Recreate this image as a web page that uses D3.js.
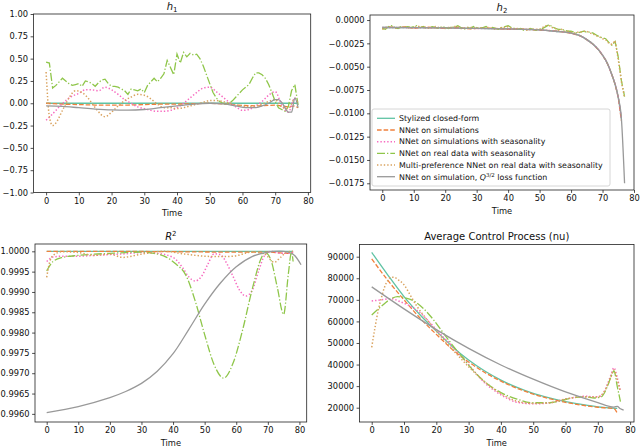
<!DOCTYPE html>
<html><head><meta charset="utf-8">
<script src="https://cdn.jsdelivr.net/npm/d3@7"></script>
<style>body{margin:0;background:#fff} svg{display:block;font-family:"DejaVu Sans",sans-serif}</style>
</head><body><svg id="c" width="640" height="447"></svg>
<script>
// ---------- series meta ----------
const seriesNames = ["Stylized closed-form","NNet on simulations","NNet on simulations with seasonality",
  "NNet on real data with seasonality","Multi-preference NNet on real data with seasonality","NNet on simulation, Q^{3/2} loss function"];
const seriesColors = ["#5fc3a4","#f0803c","#f76cc0","#8fc64a","#d9a25e","#999999"];
const seriesDash = ["", "4.6,2", "1.4,2", "8,2,1.3,2", "1.4,2", ""];
const seriesWidth = [1.3, 1.3, 1.5, 1.3, 1.5, 1.3];

// ---------- h1 ----------
const h1TealT = [0,77], h1TealV = [0,0];
const h1OrangeT = [0,5,10,15,20,25,30,35,40,45,50,55,60,65,70,72,74,76,77];
const h1OrangeV = [0.0,-0.01,-0.015,-0.02,-0.02,-0.02,-0.015,-0.01,-0.01,-0.005,0.0,-0.01,-0.025,-0.03,-0.02,-0.03,-0.04,-0.03,-0.05];
const h1PinkT = [0,2,4,6,8,10,12,14,16,18,20,22,24,26,28,30,32,34,36,38,40,42,44,46,48,50,52,54,56,58,60,62,64,66,68,70,72,74,76,77];
const h1PinkV = [-0.19,-0.12,-0.04,0.03,0.08,0.11,0.15,0.15,0.14,0.18,0.15,0.10,0.04,0.0,-0.04,-0.06,-0.08,-0.09,-0.09,-0.08,-0.05,0.0,0.06,0.12,0.17,0.18,0.13,0.07,0.01,-0.04,-0.08,-0.07,-0.03,0.02,0.09,0.13,-0.02,-0.1,0.06,0.0];
const h1GreenT = d3.range(0,78);
const h1GreenV = [0.46,0.45,0.17,0.20,0.24,0.28,0.25,0.22,0.20,0.21,0.22,0.19,0.25,0.24,0.22,0.19,0.23,0.26,0.27,0.22,
  0.19,0.19,0.18,0.16,0.14,0.10,0.16,0.15,0.14,0.16,0.12,0.20,0.24,0.28,0.24,0.28,0.33,0.48,0.40,0.32,
  0.55,0.45,0.57,0.52,0.56,0.54,0.55,0.50,0.42,0.32,0.22,0.12,0.06,0.02,0.00,-0.01,0.00,0.03,0.07,0.11,
  0.15,0.18,0.21,0.28,0.34,0.34,0.32,0.28,0.21,0.12,0.02,-0.05,-0.07,-0.09,-0.04,0.14,0.21,-0.02];
const h1TanT = [0,1,2,3,5,7,9,11,13,15,18,20,22,24,26,28,30,32,34,36,38,40,42,44,46,48,50,52,54,56,58,60,62,64,66,68,70,72,74,76,77];
const h1TanV = [0.35,-0.15,-0.25,-0.22,-0.08,0.06,0.14,0.12,0.05,-0.05,-0.15,-0.10,-0.03,0.03,0.07,0.10,0.09,0.05,-0.01,-0.05,-0.05,-0.06,-0.05,-0.03,-0.01,0.01,0.03,0.03,0.02,0.0,-0.02,-0.03,-0.04,-0.03,-0.01,0.02,0.04,-0.04,-0.06,0.05,0.0];
const h1GreyT = [0,5,10,15,20,25,30,35,40,45,50,55,58,61,64,66,68,70,71,72,73,74,75,76,77];
const h1GreyV = [-0.03,-0.035,-0.05,-0.065,-0.075,-0.078,-0.07,-0.05,-0.03,-0.01,0.0,-0.01,-0.03,-0.05,-0.05,-0.03,0.0,0.04,0.04,0.01,-0.05,-0.1,-0.1,0.06,-0.05];

// ---------- h2 ----------
const h2SmoothT = [0,10,20,30,40,50,55,60,63,65,67,69,71,72,73,74,75,76];
const h2SmoothV = [-0.0008,-0.00082,-0.00085,-0.0009,-0.00095,-0.00105,-0.0012,-0.0014,-0.0017,-0.0021,-0.0026,-0.0033,-0.0043,-0.005,-0.0059,-0.0069,-0.0083,-0.0106];
const h2OrangeT = [0,2,4,6,8,10,13,16,20,24,28,32,36,40,44,48,52,56,60,63,65,67,69,71,72,73,74,75,76];
const h2OrangeV = [-0.0009,-0.0007,-0.00085,-0.0008,-0.0007,-0.0009,-0.00075,-0.0008,-0.0009,-0.0008,-0.00095,-0.00085,-0.0009,-0.001,-0.00095,-0.00105,-0.0011,-0.0012,-0.0014,-0.0017,-0.0021,-0.0026,-0.0033,-0.0043,-0.005,-0.0059,-0.0069,-0.0083,-0.0108];
const h2GreyT = [0,10,20,30,40,50,55,60,63,65,67,69,71,72,73,74,75,76,77];
const h2GreyV = [-0.0008,-0.00082,-0.00085,-0.0009,-0.00095,-0.00105,-0.0012,-0.0014,-0.0017,-0.0021,-0.0026,-0.0033,-0.0043,-0.005,-0.0059,-0.0069,-0.0083,-0.0106,-0.0175];
const h2GreenT = d3.range(0,78);
const h2GreenV = [-0.0009,-0.0010,-0.0007,-0.0006,-0.0008,-0.0009,-0.0007,-0.0008,-0.0007,-0.0008,-0.0007,-0.0006,-0.0008,-0.0007,-0.0009,-0.0008,-0.0007,-0.0008,-0.0009,-0.0007,
  -0.0008,-0.0009,-0.0007,-0.0008,-0.0006,-0.0008,-0.0010,-0.0008,-0.0009,-0.0007,-0.0008,-0.0009,-0.0008,-0.0007,-0.0009,-0.0008,-0.0009,-0.0010,-0.0008,-0.0007,
  -0.0006,-0.0008,-0.0009,-0.0010,-0.0009,-0.0011,-0.0010,-0.0009,-0.0010,-0.0011,-0.0010,-0.0009,-0.0007,-0.0005,-0.0007,-0.0009,-0.0010,-0.0010,-0.0011,-0.0012,
  -0.0012,-0.0013,-0.0014,-0.0013,-0.0012,-0.0013,-0.0013,-0.0014,-0.0016,-0.0018,-0.0019,-0.0020,-0.0024,-0.0027,-0.0023,-0.0040,-0.0065,-0.0082];
const h2TanT = d3.range(0,78);
const h2TanV = [-0.0010,-0.0009,-0.0008,-0.0007,-0.0009,-0.0008,-0.0008,-0.0007,-0.0008,-0.0009,-0.0008,-0.0007,-0.0007,-0.0008,-0.0008,-0.0009,-0.0008,-0.0007,-0.0008,-0.0008,
  -0.0009,-0.0008,-0.0008,-0.0007,-0.0007,-0.0009,-0.0009,-0.0008,-0.0008,-0.0008,-0.0009,-0.0008,-0.0009,-0.0008,-0.0008,-0.0009,-0.0010,-0.0009,-0.0008,-0.0008,
  -0.0007,-0.0009,-0.0010,-0.0009,-0.0010,-0.0010,-0.0011,-0.0010,-0.0010,-0.0010,-0.0010,-0.0008,-0.0006,-0.0006,-0.0008,-0.0009,-0.0011,-0.0010,-0.0012,-0.0012,
  -0.0013,-0.0014,-0.0013,-0.0013,-0.0012,-0.0012,-0.0014,-0.0015,-0.0017,-0.0018,-0.0020,-0.0021,-0.0025,-0.0026,-0.0022,-0.0042,-0.0066,-0.0083];

// ---------- R^2 ----------
const r2TealT = [0,78], r2TealV = [1.0,1.0];
const r2OrangeT = [0,20,40,60,70,74,76,78];
const r2OrangeV = [1.0,1.0,0.99999,0.99998,0.99998,0.99996,0.99995,0.99997];
const r2PinkT = [0,2,5,10,15,20,25,30,35,40,43,45,47,49,51,53,55,57,59,61,63,65,67,69,71,74,76,78];
const r2PinkV = [0.99975,0.99986,0.99988,0.99988,0.9999,0.99992,0.99994,0.99997,0.99995,0.99985,0.9996,0.99937,0.99927,0.99938,0.99968,0.99994,0.99992,0.9997,0.99938,0.99905,0.9989,0.99903,0.9995,0.9999,1.0,0.99995,0.99995,0.99998];
const r2GreenT = [0,2,5,10,15,20,25,30,34,38,41,44,47,50,53,56,59,62,65,68,69,71,73,75,76.5,77.5,78];
const r2GreenV = [0.99952,0.99975,0.99985,0.9999,0.99993,0.99995,0.99997,0.99998,0.99995,0.99985,0.99968,0.99942,0.99878,0.99795,0.99721,0.99688,0.99725,0.99806,0.99905,0.99985,0.99998,0.99978,0.99911,0.99845,0.99945,0.99998,0.99975];
const r2TanT = [0,1,2,5,10,15,20,24,30,37,44,50,55,59,65,69,72,74,76,78];
const r2TanV = [0.99936,0.99975,0.9999,0.99999,0.99997,0.9999,0.99993,0.99985,0.99993,1.0,0.99993,0.99988,0.99987,0.99988,0.99998,0.99993,0.99973,0.99985,0.99998,1.0];
const r2GreyT = [0,10,20,25,30,35,40,45,50,55,60,65,70,75,78,80.5];
const r2GreyV = [0.99603,0.99618,0.9964,0.99655,0.99675,0.99705,0.99748,0.99808,0.99870,0.99922,0.99962,0.99987,0.99998,1.0,0.99993,0.99967];

// ---------- Average control process ----------
const nuTealT = [0,5,10,15,20,25,30,35,40,45,50,55,60,65,70,76];
const nuTealV = [92000,81500,71500,63000,55500,48300,42100,37000,32800,29400,26600,24500,22800,21500,20400,19700];
const nuOrangeT = [0,5,10,15,20,25,30,35,40,45,50,55,60,65,70,75,76];
const nuOrangeV = [89000,79000,70000,61500,54000,47000,41200,36300,32300,29000,26300,24200,22500,21200,20200,19600,17500];
const nuPinkT = [0,3,6,9,12,15,18,21,24,27,30,35,40,45,50,55,60,63,66,69,71,73,74,75,76,77];
const nuPinkV = [69500,70000,70500,69000,67000,64000,59500,54500,50000,45000,40000,31500,26000,22500,21800,22200,24000,24800,25300,25000,25500,31000,35000,38500,34000,27500];
const nuGreenT = [0,3,6,8,10,13,16,19,22,25,28,31,35,40,45,50,55,60,63,66,69,71,73,74,75,76,77];
const nuGreenV = [63000,67000,70500,71500,71000,69500,66000,61000,55000,49000,43500,38000,32000,27000,24000,22300,22300,23800,24800,25000,24500,25000,30000,34000,37000,30000,22800];
const nuTanT = [0,1,2,3,4,5,6,7,8,10,12,14,17,20,25,30,35,40,45,50,55,60,65,70,72,74,75,76,77];
const nuTanV = [48000,57000,65000,71000,76000,79000,80500,80500,79500,77000,72000,67000,61000,55500,47000,39000,32000,26500,23000,22000,22300,24000,25000,25000,27500,34000,37500,33000,27500];
const nuGreyT = [0,10,20,30,40,50,60,70,75,76,77,78];
const nuGreyV = [76000,65800,56200,47500,39800,33200,27300,22400,20300,20600,19500,18900];

// ---------- ticks ----------
const h1Ticks = [-1,-0.75,-0.5,-0.25,0,0.25,0.5,0.75,1];
const h2Ticks = [0,-0.0025,-0.005,-0.0075,-0.01,-0.0125,-0.015,-0.0175];
const r2Ticks = [0.996,0.9965,0.997,0.9975,0.998,0.9985,0.999,0.9995,1.0];
const nuTicks = [20000,30000,40000,50000,60000,70000,80000,90000];
const timeTicks = [0,10,20,30,40,50,60,70,80];

const mk = (ts, vs) => ts.map((t,i)=>[t, vs[i]]);

const panels = [
  {title:"h1", frame:[33.5,14,310.7,192.5], xd:[-3.85,80.85], yd:[-1,1], yt:h1Ticks, fmt:d3.format(".2f"),
   series:[mk(h1TealT,h1TealV),mk(h1OrangeT,h1OrangeV),mk(h1PinkT,h1PinkV),mk(h1GreenT,h1GreenV),mk(h1TanT,h1TanV),mk(h1GreyT,h1GreyV)],
   curves:[d3.curveLinear,d3.curveLinear,d3.curveMonotoneX,d3.curveLinear,d3.curveMonotoneX,d3.curveMonotoneX]},
  {title:"h2", frame:[370,15,634,190], xd:[-3.9,80.0], yd:[-0.01822,0.00054], yt:h2Ticks, fmt:d3.format(".4f"), legend:true,
   series:[mk(h2SmoothT,h2SmoothV),mk(h2OrangeT,h2OrangeV),mk(h2SmoothT,h2SmoothV),mk(h2GreenT,h2GreenV),mk(h2TanT,h2TanV),mk(h2GreyT,h2GreyV)],
   curves:[d3.curveMonotoneX,d3.curveLinear,d3.curveMonotoneX,d3.curveLinear,d3.curveLinear,d3.curveMonotoneX]},
  {title:"R2", frame:[35,244,306.7,422], xd:[-3.7,82.3], yd:[0.99580,1.00018], yt:r2Ticks, fmt:d3.format(".4f"),
   series:[mk(r2TealT,r2TealV),mk(r2OrangeT,r2OrangeV),mk(r2PinkT,r2PinkV),mk(r2GreenT,r2GreenV),mk(r2TanT,r2TanV),mk(r2GreyT,r2GreyV)],
   curves:[d3.curveMonotoneX,d3.curveMonotoneX,d3.curveMonotoneX,d3.curveMonotoneX,d3.curveMonotoneX,d3.curveCatmullRom]},
  {title:"Average Control Process (nu)", frame:[359.5,244.5,634,422], xd:[-3.78,81.2], yd:[13370,95650], yt:nuTicks, fmt:d3.format("d"),
   series:[mk(nuTealT,nuTealV),mk(nuOrangeT,nuOrangeV),mk(nuPinkT,nuPinkV),mk(nuGreenT,nuGreenV),mk(nuTanT,nuTanV),mk(nuGreyT,nuGreyV)],
   curves:[d3.curveMonotoneX,d3.curveMonotoneX,d3.curveMonotoneX,d3.curveMonotoneX,d3.curveMonotoneX,d3.curveMonotoneX]}
];

const svg = d3.select("#c");
const TICK_FS = 8.3, TITLE_FS = 10, LEG_FS = 7.9;

panels.forEach((p, pi) => {
  const [x0,y0,x1,y1] = p.frame;
  const x = d3.scaleLinear().domain(p.xd).range([x0,x1]);
  const y = d3.scaleLinear().domain(p.yd).range([y1,y0]);
  const g = svg.append("g");
  const clipId = "clip"+pi;
  g.append("clipPath").attr("id",clipId).append("rect").attr("x",x0).attr("y",y0).attr("width",x1-x0).attr("height",y1-y0);

  const lines = g.append("g").attr("clip-path",`url(#${clipId})`);
  p.series.forEach((s, si) => {
    lines.append("path")
      .attr("d", d3.line().x(d=>x(d[0])).y(d=>y(d[1])).curve(p.curves[si])(s))
      .attr("fill","none").attr("stroke",seriesColors[si]).attr("stroke-width",seriesWidth[si])
      .attr("stroke-dasharray", seriesDash[si] || null);
  });

  // axes
  const xa = g.append("g").attr("transform",`translate(0,${y1})`)
    .call(d3.axisBottom(x).tickValues(timeTicks).tickSize(2.9).tickPadding(2.6).tickSizeOuter(0));
  const ya = g.append("g").attr("transform",`translate(${x0},0)`)
    .call(d3.axisLeft(y).tickValues(p.yt).tickFormat(p.fmt).tickSize(2.9).tickPadding(2.6).tickSizeOuter(0));
  [xa,ya].forEach(a=>{
    a.select(".domain").remove();
    a.selectAll("line").attr("stroke","#222").attr("stroke-width",0.8);
    a.selectAll("text").attr("font-size",TICK_FS).attr("fill","#111").attr("font-family","DejaVu Sans");
  });
  g.append("rect").attr("x",x0).attr("y",y0).attr("width",x1-x0).attr("height",y1-y0)
    .attr("fill","none").attr("stroke","#222").attr("stroke-width",0.8);

  // x label
  g.append("text").attr("x",(x0+x1)/2).attr("y",y1+23.5).attr("text-anchor","middle")
    .attr("font-size",TICK_FS).attr("fill","#111").text("Time");

  // title
  const t = g.append("text").attr("x",(x0+x1)/2).attr("y",y0-4.5).attr("text-anchor","middle")
    .attr("font-size",TITLE_FS).attr("fill","#111");
  if (p.title === "h1" || p.title === "h2") {
    t.append("tspan").attr("font-style","italic").text("h");
    t.append("tspan").attr("font-size",TITLE_FS*0.7).attr("dy",2).text(p.title[1]);
  } else if (p.title === "R2") {
    t.append("tspan").attr("font-style","italic").text("R");
    t.append("tspan").attr("font-size",TITLE_FS*0.7).attr("dy",-4).text("2");
  } else {
    t.text(p.title);
  }

  if (p.legend) {
    const lg = g.append("g");
    lg.append("rect").attr("x",372).attr("y",109).attr("width",238).attr("height",77).attr("rx",2)
      .attr("fill","#fff").attr("fill-opacity",0.8).attr("stroke","#cccccc").attr("stroke-width",0.8);
    seriesNames.forEach((name, si) => {
      const yy = 118.3 + si*11.68;
      lg.append("line").attr("x1",377).attr("x2",395).attr("y1",yy).attr("y2",yy)
        .attr("stroke",seriesColors[si]).attr("stroke-width",seriesWidth[si]).attr("stroke-dasharray",seriesDash[si]||null);
      const tx = lg.append("text").attr("x",399).attr("y",yy+2.8).attr("font-size",LEG_FS).attr("fill","#111");
      if (name.includes("Q^{3/2}")) {
        tx.append("tspan").text("NNet on simulation, ");
        tx.append("tspan").attr("font-style","italic").text("Q");
        tx.append("tspan").attr("font-size",LEG_FS*0.7).attr("dy",-3).text("3/2");
        tx.append("tspan").attr("dy",3).text(" loss function");
      } else {
        tx.text(name);
      }
    });
  }
});
</script></body></html>
